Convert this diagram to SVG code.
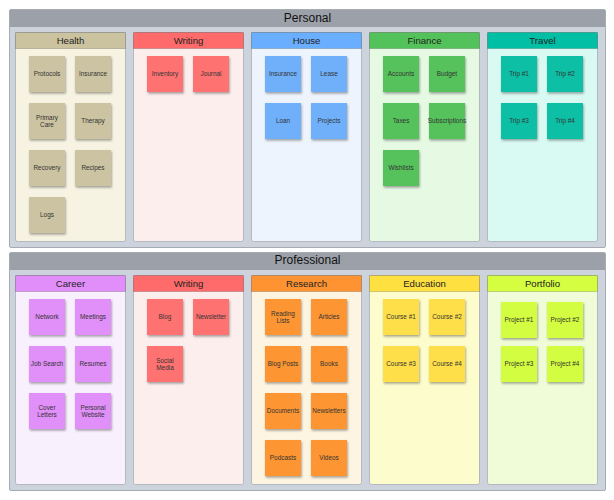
<svg xmlns="http://www.w3.org/2000/svg" width="614" height="500" viewBox="0 0 614 500">
<defs>
<filter id="sh" x="-20%" y="-20%" width="150%" height="150%">
<feDropShadow dx="0.8" dy="1.6" stdDeviation="0.9" flood-color="#000" flood-opacity="0.35"/>
</filter>
<style>
.panel{fill:#cdd3dc;stroke:#a7acb3;stroke-width:1}
.phead{fill:#9ca1a9}
.ptitle{font-family:"Liberation Sans",Arial,sans-serif;font-size:12px;fill:#111;text-anchor:middle}
.cbody{stroke:#b4b9bf;stroke-width:1}
.chead{stroke:rgba(0,0,0,0.18);stroke-width:1}
.ctitle{font-family:"Liberation Sans",Arial,sans-serif;font-size:9.6px;fill:#222;text-anchor:middle}
.st{filter:url(#sh)}
.stt{font-family:"Liberation Sans",Arial,sans-serif;font-size:6.4px;fill:#333;text-anchor:middle}
</style>
</defs>
<rect width="614" height="500" fill="#fff"/>

<!-- Personal panel -->
<g id="personal">
<rect class="panel" x="9.5" y="9.5" width="596" height="238" rx="1.5"/>
<rect class="phead" x="10" y="10" width="595" height="17"/>
<text class="ptitle" x="307.5" y="21.5">Personal</text>
</g>

<g id="health">
<rect class="cbody" x="15.5" y="32.5" width="110" height="209" rx="2" fill="#f6f3e2"/>
<rect class="chead" x="15.5" y="32.5" width="110" height="16" fill="#cbc3a0"/>
<text class="ctitle" x="70.5" y="43.8">Health</text>
<g fill="#cbc3a1">
<rect class="st" x="29" y="56" width="36" height="36"/>
<rect class="st" x="75" y="56" width="36" height="36"/>
<rect class="st" x="29" y="103" width="36" height="36"/>
<rect class="st" x="75" y="103" width="36" height="36"/>
<rect class="st" x="29" y="150" width="36" height="36"/>
<rect class="st" x="75" y="150" width="36" height="36"/>
<rect class="st" x="29" y="197" width="36" height="36"/>
</g>
<text class="stt" x="47" y="76.3">Protocols</text>
<text class="stt" x="93" y="76.3">Insurance</text>
<text class="stt" x="47" y="119.5">Primary</text>
<text class="stt" x="47" y="127">Care</text>
<text class="stt" x="93" y="123.3">Therapy</text>
<text class="stt" x="47" y="170.3">Recovery</text>
<text class="stt" x="93" y="170.3">Recipes</text>
<text class="stt" x="47" y="217.3">Logs</text>
</g>

<g id="writing-personal">
<rect class="cbody" x="133.5" y="32.5" width="110" height="209" rx="2" fill="#fdeeee"/>
<rect class="chead" x="133.5" y="32.5" width="110" height="16" fill="#ff6b6b"/>
<text class="ctitle" x="188.5" y="43.8">Writing</text>
<g fill="#ff7272">
<rect class="st" x="147" y="56" width="36" height="36"/>
<rect class="st" x="193" y="56" width="36" height="36"/>
</g>
<text class="stt" x="165" y="76.3">Inventory</text>
<text class="stt" x="211" y="76.3">Journal</text>
</g>

<g id="house">
<rect class="cbody" x="251.5" y="32.5" width="110" height="209" rx="2" fill="#eef4fd"/>
<rect class="chead" x="251.5" y="32.5" width="110" height="16" fill="#6aafff"/>
<text class="ctitle" x="306.5" y="43.8">House</text>
<g fill="#70b0fb">
<rect class="st" x="265" y="56" width="36" height="36"/>
<rect class="st" x="311" y="56" width="36" height="36"/>
<rect class="st" x="265" y="103" width="36" height="36"/>
<rect class="st" x="311" y="103" width="36" height="36"/>
</g>
<text class="stt" x="283" y="76.3">Insurance</text>
<text class="stt" x="329" y="76.3">Lease</text>
<text class="stt" x="283" y="123.3">Loan</text>
<text class="stt" x="329" y="123.3">Projects</text>
</g>

<g id="finance">
<rect class="cbody" x="369.5" y="32.5" width="110" height="209" rx="2" fill="#e5f9e3"/>
<rect class="chead" x="369.5" y="32.5" width="110" height="16" fill="#54c25a"/>
<text class="ctitle" x="424.5" y="43.8">Finance</text>
<g fill="#57c25c">
<rect class="st" x="383" y="56" width="36" height="36"/>
<rect class="st" x="429" y="56" width="36" height="36"/>
<rect class="st" x="383" y="103" width="36" height="36"/>
<rect class="st" x="429" y="103" width="36" height="36"/>
<rect class="st" x="383" y="150" width="36" height="36"/>
</g>
<text class="stt" x="401" y="76.3">Accounts</text>
<text class="stt" x="447" y="76.3">Budget</text>
<text class="stt" x="401" y="123.3">Taxes</text>
<text class="stt" x="447" y="123.3">Subscriptions</text>
<text class="stt" x="401" y="170.3">Wishlists</text>
</g>

<g id="travel">
<rect class="cbody" x="487.5" y="32.5" width="110" height="209" rx="2" fill="#d9f9f3"/>
<rect class="chead" x="487.5" y="32.5" width="110" height="16" fill="#00bfa5"/>
<text class="ctitle" x="542.5" y="43.8">Travel</text>
<g fill="#0fbfa4">
<rect class="st" x="501" y="56" width="36" height="36"/>
<rect class="st" x="547" y="56" width="36" height="36"/>
<rect class="st" x="501" y="103" width="36" height="36"/>
<rect class="st" x="547" y="103" width="36" height="36"/>
</g>
<text class="stt" x="519" y="76.3">Trip #1</text>
<text class="stt" x="565" y="76.3">Trip #2</text>
<text class="stt" x="519" y="123.3">Trip #3</text>
<text class="stt" x="565" y="123.3">Trip #4</text>
</g>

<!-- Professional panel -->
<g id="professional">
<rect class="panel" x="9.5" y="252.5" width="596" height="238" rx="1.5"/>
<rect class="phead" x="10" y="253" width="595" height="17"/>
<text class="ptitle" x="307.5" y="264.3">Professional</text>
</g>

<g id="career">
<rect class="cbody" x="15.5" y="275.5" width="110" height="209" rx="2" fill="#f9f0fd"/>
<rect class="chead" x="15.5" y="275.5" width="110" height="16" fill="#e28efa"/>
<text class="ctitle" x="70.5" y="286.8">Career</text>
<g fill="#e18ff9">
<rect class="st" x="29" y="299" width="36" height="36"/>
<rect class="st" x="75" y="299" width="36" height="36"/>
<rect class="st" x="29" y="346" width="36" height="36"/>
<rect class="st" x="75" y="346" width="36" height="36"/>
<rect class="st" x="29" y="393" width="36" height="36"/>
<rect class="st" x="75" y="393" width="36" height="36"/>
</g>
<text class="stt" x="47" y="319.3">Network</text>
<text class="stt" x="93" y="319.3">Meetings</text>
<text class="stt" x="47" y="366.3">Job Search</text>
<text class="stt" x="93" y="366.3">Resumes</text>
<text class="stt" x="47" y="409.5">Cover</text>
<text class="stt" x="47" y="417">Letters</text>
<text class="stt" x="93" y="409.5">Personal</text>
<text class="stt" x="93" y="417">Website</text>
</g>

<g id="writing-professional">
<rect class="cbody" x="133.5" y="275.5" width="110" height="209" rx="2" fill="#fdeeee"/>
<rect class="chead" x="133.5" y="275.5" width="110" height="16" fill="#ff6b6b"/>
<text class="ctitle" x="188.5" y="286.8">Writing</text>
<g fill="#ff7272">
<rect class="st" x="147" y="299" width="36" height="36"/>
<rect class="st" x="193" y="299" width="36" height="36"/>
<rect class="st" x="147" y="346" width="36" height="36"/>
</g>
<text class="stt" x="165" y="319.3">Blog</text>
<text class="stt" x="211" y="319.3">Newsletter</text>
<text class="stt" x="165" y="362.5">Social</text>
<text class="stt" x="165" y="370">Media</text>
</g>

<g id="research">
<rect class="cbody" x="251.5" y="275.5" width="110" height="209" rx="2" fill="#fdf4e1"/>
<rect class="chead" x="251.5" y="275.5" width="110" height="16" fill="#ff9231"/>
<text class="ctitle" x="306.5" y="286.8">Research</text>
<g fill="#fd9632">
<rect class="st" x="265" y="299" width="36" height="36"/>
<rect class="st" x="311" y="299" width="36" height="36"/>
<rect class="st" x="265" y="346" width="36" height="36"/>
<rect class="st" x="311" y="346" width="36" height="36"/>
<rect class="st" x="265" y="393" width="36" height="36"/>
<rect class="st" x="311" y="393" width="36" height="36"/>
<rect class="st" x="265" y="440" width="36" height="36"/>
<rect class="st" x="311" y="440" width="36" height="36"/>
</g>
<text class="stt" x="283" y="315.5">Reading</text>
<text class="stt" x="283" y="323">Lists</text>
<text class="stt" x="329" y="319.3">Articles</text>
<text class="stt" x="283" y="366.3">Blog Posts</text>
<text class="stt" x="329" y="366.3">Books</text>
<text class="stt" x="283" y="413.3">Documents</text>
<text class="stt" x="329" y="413.3">Newsletters</text>
<text class="stt" x="283" y="460.3">Podcasts</text>
<text class="stt" x="329" y="460.3">Videos</text>
</g>

<g id="education">
<rect class="cbody" x="369.5" y="275.5" width="110" height="209" rx="2" fill="#fdfccd"/>
<rect class="chead" x="369.5" y="275.5" width="110" height="16" fill="#ffe041"/>
<text class="ctitle" x="424.5" y="286.8">Education</text>
<g fill="#fedf48">
<rect class="st" x="383" y="299" width="36" height="36"/>
<rect class="st" x="429" y="299" width="36" height="36"/>
<rect class="st" x="383" y="346" width="36" height="36"/>
<rect class="st" x="429" y="346" width="36" height="36"/>
</g>
<text class="stt" x="401" y="319.3">Course #1</text>
<text class="stt" x="447" y="319.3">Course #2</text>
<text class="stt" x="401" y="366.3">Course #3</text>
<text class="stt" x="447" y="366.3">Course #4</text>
</g>

<g id="portfolio">
<rect class="cbody" x="487.5" y="275.5" width="110" height="209" rx="2" fill="#effcd7"/>
<rect class="chead" x="487.5" y="275.5" width="110" height="16" fill="#d5fe40"/>
<text class="ctitle" x="542.5" y="286.8">Portfolio</text>
<g fill="#d3fd3f">
<rect class="st" x="501" y="302" width="36" height="36"/>
<rect class="st" x="547" y="302" width="36" height="36"/>
<rect class="st" x="501" y="346" width="36" height="36"/>
<rect class="st" x="547" y="346" width="36" height="36"/>
</g>
<text class="stt" x="519" y="322.3">Project #1</text>
<text class="stt" x="565" y="322.3">Project #2</text>
<text class="stt" x="519" y="366.3">Project #3</text>
<text class="stt" x="565" y="366.3">Project #4</text>
</g>

<g id="connectors"/>
</svg>
